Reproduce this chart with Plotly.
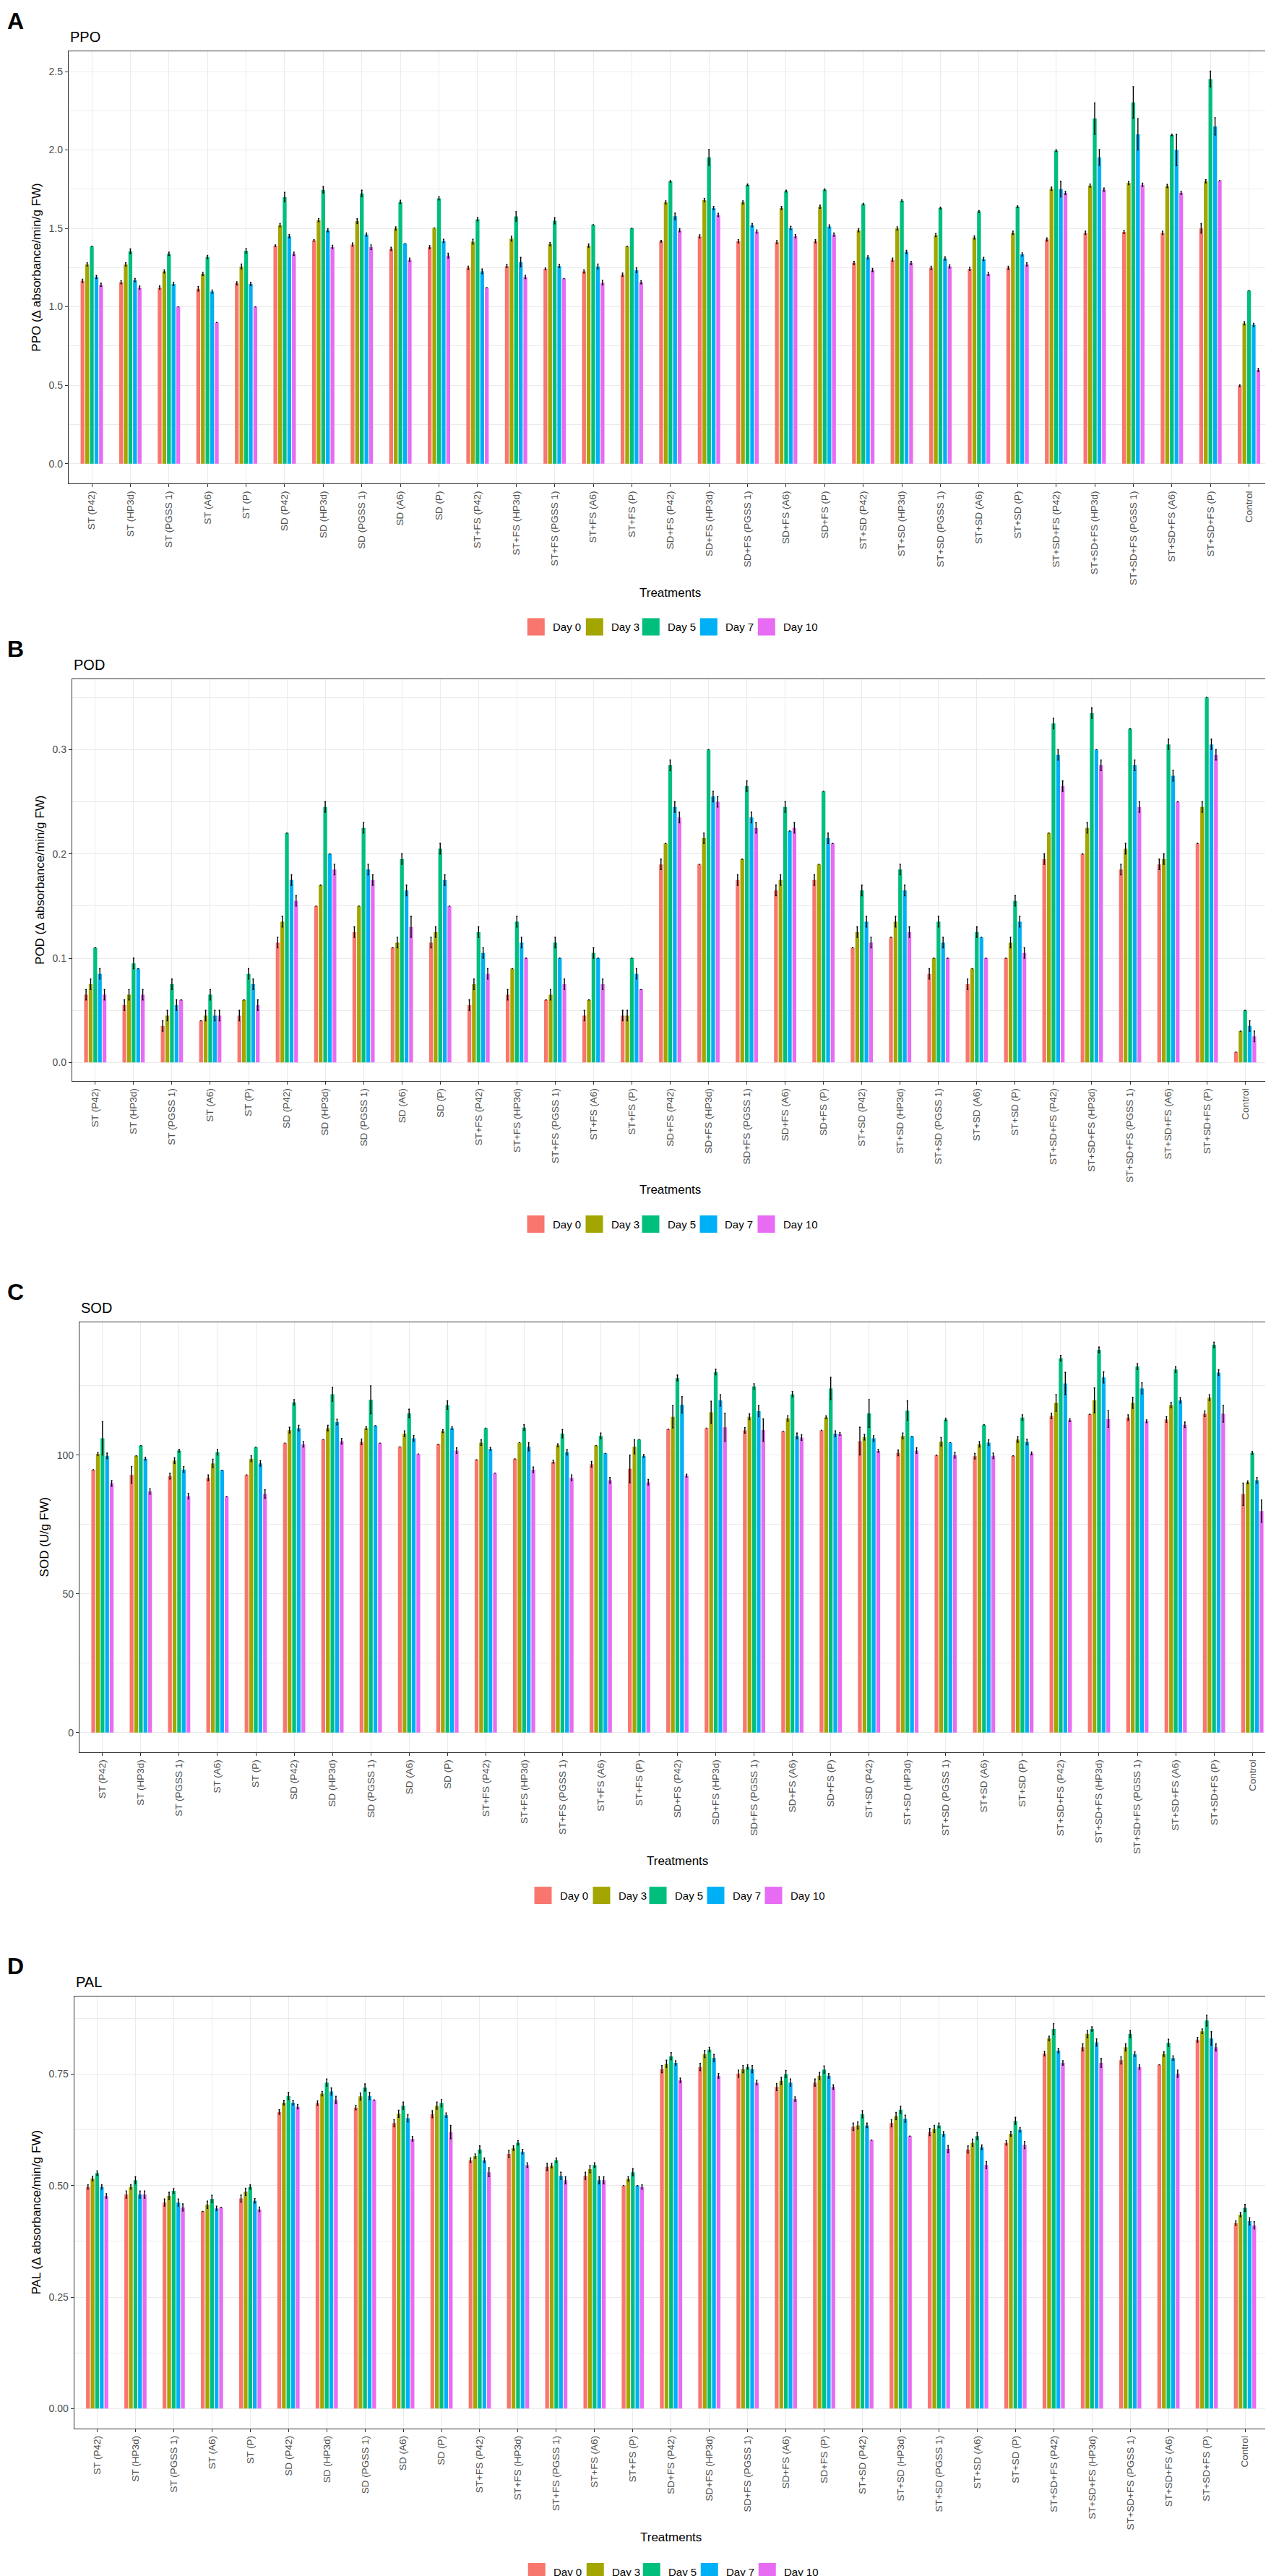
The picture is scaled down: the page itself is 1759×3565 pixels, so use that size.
import plotly.graph_objects as go

W, H = 1759, 3565
FONT = "Liberation Sans, Arial, sans-serif"

TREATMENTS = [
    "ST (P42)", "ST (HP3d)", "ST (PGSS 1)", "ST (A6)", "ST (P)",
    "SD (P42)", "SD (HP3d)", "SD (PGSS 1)", "SD (A6)", "SD (P)",
    "ST+FS (P42)", "ST+FS (HP3d)", "ST+FS (PGSS 1)", "ST+FS (A6)", "ST+FS (P)",
    "SD+FS (P42)", "SD+FS (HP3d)", "SD+FS (PGSS 1)", "SD+FS (A6)", "SD+FS (P)",
    "ST+SD (P42)", "ST+SD (HP3d)", "ST+SD (PGSS 1)", "ST+SD (A6)", "ST+SD (P)",
    "ST+SD+FS (P42)", "ST+SD+FS (HP3d)", "ST+SD+FS (PGSS 1)", "ST+SD+FS (A6)",
    "ST+SD+FS (P)", "Control",
]
DAYS = ["Day 0", "Day 3", "Day 5", "Day 7", "Day 10"]
COLORS = ["#F8766D", "#A3A500", "#00BF7D", "#00B0F6", "#E76BF3"]

# rows = days (0, 3, 5, 7, 10), columns = treatments
PPO_MEAN = [
    [1.166, 1.157, 1.123, 1.115, 1.15, 1.39, 1.423, 1.397, 1.37, 1.38, 1.249, 1.26, 1.242, 1.226, 1.205,
     1.418, 1.449, 1.418, 1.412, 1.418, 1.28, 1.3, 1.249, 1.242, 1.249, 1.43, 1.472, 1.477, 1.472, 1.5, 0.497],
    [1.27, 1.27, 1.226, 1.21, 1.257, 1.52, 1.553, 1.546, 1.5, 1.503, 1.415, 1.435, 1.4, 1.39, 1.385,
     1.666, 1.68, 1.666, 1.63, 1.638, 1.488, 1.5, 1.457, 1.442, 1.472, 1.753, 1.773, 1.789, 1.77, 1.8, 0.895],
    [1.385, 1.354, 1.338, 1.318, 1.357, 1.70, 1.746, 1.723, 1.669, 1.692, 1.558, 1.576, 1.549, 1.523, 1.5,
     1.80, 1.953, 1.778, 1.738, 1.747, 1.655, 1.677, 1.63, 1.608, 1.638, 1.996, 2.2, 2.303, 2.096, 2.452, 1.103],
    [1.19, 1.17, 1.146, 1.097, 1.146, 1.45, 1.488, 1.461, 1.403, 1.42, 1.226, 1.285, 1.26, 1.257, 1.233,
     1.577, 1.63, 1.52, 1.503, 1.512, 1.315, 1.35, 1.308, 1.305, 1.334, 1.75, 1.953, 2.1, 2.0, 2.15, 0.885],
    [1.14, 1.123, 1.0, 0.9, 1.0, 1.338, 1.382, 1.38, 1.3, 1.326, 1.123, 1.19, 1.18, 1.154, 1.157,
     1.488, 1.586, 1.48, 1.45, 1.46, 1.235, 1.28, 1.258, 1.21, 1.27, 1.726, 1.747, 1.778, 1.727, 1.804, 0.597],
]
PPO_ERR = [
    [.01, .01, .01, .015, .01, .005, .005, .01, .01, .01, .01, .01, .005, .01, .01,
     .005, .01, .01, .01, .01, .01, .01, .01, .01, .01, .01, .01, .01, .01, .03, .005],
    [.01, .01, .01, .01, .015, .01, .01, .015, .01, 0, .015, .015, .01, .01, 0,
     .01, .01, .01, .01, .01, .01, .01, .01, .01, .01, .01, .01, .01, .01, .01, .01],
    [0, .015, .01, .01, .015, .03, .02, .02, .01, .01, .01, .03, .02, 0, 0,
     .005, .05, .005, .005, .005, .005, .005, .005, .005, .005, .005, .1, .1, .005, .05, 0],
    [.01, .01, .01, .01, .01, .01, .01, .01, 0, .01, .015, .03, .01, .015, .015,
     .02, .01, .01, .01, .01, .01, .01, .01, .01, .01, .05, .05, .1, .1, .055, .01],
    [.01, .01, 0, 0, 0, .01, .01, .015, .01, .015, 0, .01, 0, .015, .01,
     .01, .01, .01, .01, .01, .01, .01, .01, .01, .01, .01, .01, .01, .01, 0, .01],
]

POD_MEAN = [
    [.065, .055, .035, .04, .045, .115, .15, .125, .11, .115, .055, .065, .06, .045, .045,
     .19, .19, .175, .165, .175, .11, .12, .085, .075, .1, .195, .2, .185, .19, .21, .01],
    [.075, .065, .045, .045, .06, .135, .17, .15, .115, .125, .075, .09, .065, .06, .045,
     .21, .215, .195, .175, .19, .125, .135, .1, .09, .115, .22, .225, .205, .195, .245, .03],
    [.11, .095, .075, .065, .085, .22, .245, .225, .195, .205, .125, .135, .115, .105, .1,
     .285, .30, .265, .245, .26, .165, .185, .135, .125, .155, .325, .335, .32, .305, .35, .05],
    [.085, .09, .055, .045, .075, .175, .20, .185, .165, .175, .105, .115, .10, .10, .085,
     .245, .255, .235, .222, .215, .135, .165, .115, .12, .135, .295, .30, .285, .275, .305, .035],
    [.065, .065, .06, .045, .055, .155, .185, .175, .13, .15, .085, .10, .075, .075, .07,
     .235, .25, .225, .225, .21, .115, .125, .10, .10, .105, .265, .285, .245, .25, .295, .025],
]
POD_ERR = [
    [.005, .005, .005, 0, .005, .005, 0, .005, 0, .005, .005, .005, 0, .005, .005,
     .005, 0, .005, .005, .005, 0, 0, .005, .005, 0, .005, 0, .005, .005, 0, 0],
    [.005, .005, .005, .005, 0, .005, 0, 0, .005, .005, .005, 0, .005, 0, .005,
     0, .005, 0, .005, 0, .005, .005, 0, 0, .005, 0, .005, .005, .005, .005, 0],
    [0, .005, .005, .005, .005, 0, .005, .005, .005, .005, .005, .005, .005, .005, 0,
     .005, 0, .005, .005, 0, .005, .005, .005, .005, .005, .005, .005, 0, .005, 0, 0],
    [.005, 0, .005, .005, .005, .005, 0, .005, .005, .005, .005, .005, 0, 0, .005,
     .005, .005, .005, 0, .005, .005, .005, .005, 0, .005, .005, 0, .005, .005, .005, .005],
    [.005, .005, 0, .005, .005, .005, .005, .005, .01, 0, .005, 0, .005, .005, 0,
     .005, .005, .005, .005, 0, .005, .005, 0, 0, .005, .005, .005, .005, 0, .005, .005],
]

SOD_MEAN = [
    [94.7, 92.8, 92.4, 91.8, 92.8, 104.3, 105.6, 104.8, 103, 103.9, 98.3, 98.6, 97.6, 96.7, 95,
     109.3, 109.7, 108.9, 108.6, 108.9, 105, 100.8, 99.9, 99.6, 99.7, 114.1, 114.7, 113.5, 112.8, 114.9, 85.9],
    [100.4, 99.7, 98, 97, 98.7, 109, 109.7, 109.7, 107.7, 108.6, 104.5, 104.5, 103.5, 103.4, 103,
     113.8, 115.4, 113.8, 113.2, 113.6, 106.4, 106.9, 104.8, 103.9, 105.6, 118.8, 119.7, 118.8, 118, 120.7, 90.2],
    [106, 103.4, 101.6, 101, 102.8, 119, 121.9, 119.9, 115, 118, 109.7, 109.9, 107.7, 106.9, 105.6,
     127.8, 129.9, 124.7, 121.9, 124, 115, 116, 112.8, 110.9, 113.5, 134.9, 137.9, 131.9, 130.8, 139.7, 100.8],
    [99.7, 98.7, 94.8, 94.5, 97, 109.7, 111.9, 110.6, 106, 109.7, 102.2, 103, 101, 100.6, 99.7,
     118.1, 119.7, 115.8, 106.9, 107.7, 106, 106.7, 104.5, 104.5, 104.7, 125.8, 128, 124, 119.7, 129.7, 90.9],
    [89.8, 86.9, 85.2, 85, 86, 103.9, 105, 104.3, 100.4, 101.6, 93.5, 94.7, 91.8, 90.9, 90.2,
     92.6, 110, 109, 106.3, 107.6, 101.5, 101.6, 99.9, 99.7, 100.6, 112.6, 113, 112.2, 110.9, 114.9, 79.8],
]
SOD_ERR = [
    [0, 3, 1, 1, 0, 0, 0, 1, 0, 0, 0, 0, 0.5, 1, 5,
     0, 0, 1, 0, 0, 5, 1, 0, 1, 0, 1, 0, 1, 1, 1, 4],
    [0.5, 0, 1, 1.5, 1, 1, 1, 0.5, 1, 0.5, 1, 0, 0.5, 0, 2.5,
     4, 4, 1, 1, 0.5, 1, 1, 1.5, 1, 1, 3, 4.5, 2, 1, 1, 0.5],
    [6, 0, 0.5, 1, 0, 1, 2.5, 5, 1.5, 1.5, 0, 1, 1.5, 1, 0,
     1, 1, 1, 1, 4, 5, 3.5, 0.5, 0, 1, 1, 1, 1, 1, 1, 0.5],
    [1, 0.5, 1, 0, 1, 1, 1, 0, 1, 0.5, 0.5, 1.5, 1, 0, 0.5,
     3, 2, 2, 1, 1, 1, 0, 0, 1, 1, 4, 2, 2, 1, 1, 1],
    [1, 1, 1, 0, 1.5, 1, 1, 0, 0, 1, 0, 1, 1, 1, 1,
     0.5, 5, 4, 1, 0.5, 0.5, 1, 1, 1, 0.5, 0.5, 3, 0.5, 1, 3, 4],
]

PAL_MEAN = [
    [.497, .48, .462, .442, .471, .665, .685, .675, .64, .66, .557, .571, .542, .522, .50,
     .761, .766, .751, .721, .731, .632, .64, .62, .581, .596, .796, .81, .781, .771, .827, .416],
    [.516, .497, .477, .457, .486, .686, .706, .70, .661, .679, .566, .584, .545, .537, .515,
     .773, .795, .761, .735, .746, .635, .656, .627, .596, .616, .83, .84, .81, .795, .846, .435],
    [.528, .512, .488, .47, .497, .701, .731, .72, .679, .685, .581, .596, .557, .546, .53,
     .79, .805, .766, .75, .76, .66, .67, .635, .611, .645, .851, .851, .84, .82, .87, .45],
    [.497, .48, .462, .449, .466, .686, .711, .701, .651, .658, .557, .576, .522, .512, .50,
     .775, .786, .761, .731, .746, .635, .65, .616, .586, .625, .803, .821, .795, .786, .83, .42],
    [.477, .48, .451, .451, .447, .677, .692, .692, .605, .62, .53, .546, .512, .512, .497,
     .736, .746, .731, .694, .721, .602, .611, .582, .546, .591, .775, .775, .766, .751, .81, .411],
]
PAL_ERR = [
    [.005, .008, .008, 0, .008, .005, .005, .005, .008, .008, .005, .008, .008, .008, 0,
     .008, .008, .008, .008, .008, .008, .008, .008, .008, .005, .005, .008, .008, 0, .005, .005],
    [.005, .005, .008, .008, .008, .005, .005, .008, .008, .008, .005, .005, .005, .008, .005,
     .008, .008, .008, .008, .008, .008, .008, .008, .008, .005, .005, .008, .008, .005, .005, .005],
    [.005, .008, .005, .008, .005, .008, .008, .008, .008, .008, .008, .005, .005, .005, .008,
     .008, .005, .005, .008, .008, .008, .008, .005, .008, .008, .012, .005, .008, .008, .012, .008],
    [.005, .008, .008, .005, .005, .005, .008, .008, .008, .005, .005, .005, .008, .008, 0,
     .005, .008, .008, .008, .005, .005, .008, .005, .005, .005, .005, .008, .005, .005, .015, .008],
    [.005, .008, .008, 0, .005, .005, .008, 0, .005, .015, .01, .005, .008, .008, .005,
     .005, .005, .005, .005, .005, 0, 0, .008, .008, .008, .005, .01, .005, .008, .008, .008],
]

for arr in (PPO_MEAN, PPO_ERR, POD_MEAN, POD_ERR, SOD_MEAN, SOD_ERR, PAL_MEAN, PAL_ERR):
    assert len(arr) == 5 and all(len(r) == len(TREATMENTS) for r in arr), [len(r) for r in arr]

# panel boxes in pixels: left, top, right, bottom
PANELS = [
    dict(letter="A", title="PPO", ytitle="PPO (Δ absorbance/min/g FW)",
         mean=PPO_MEAN, err=PPO_ERR, yrange=[-0.126, 2.629], dtick=0.5, fmt=".1f",
         box=(87, 63, 1752.6, 661)),
    dict(letter="B", title="POD", ytitle="POD (Δ absorbance/min/g FW)",
         mean=POD_MEAN, err=POD_ERR, yrange=[-0.0175, 0.3675], dtick=0.1, fmt=".1f",
         box=(92, 932, 1747, 1487.6)),
    dict(letter="C", title="SOD", ytitle="SOD (U/g FW)",
         mean=SOD_MEAN, err=SOD_ERR, yrange=[-7.0, 147.9], dtick=50, fmt="d",
         box=(102, 1821.7, 1757, 2416.6)),
    dict(letter="D", title="PAL", ytitle="PAL (Δ absorbance/min/g FW)",
         mean=PAL_MEAN, err=PAL_ERR, yrange=[-0.044, 0.924], dtick=0.25, fmt=".2f",
         box=(94.7, 2755, 1746.8, 3352.5)),
]


def px(x):
    return x / W


def py(y):
    return 1 - y / H


fig = go.Figure()
annotations = []
shapes = []
GRID = "#EBEBEB"
LINE = "#333333"

for i, p in enumerate(PANELS, start=1):
    sfx = "" if i == 1 else str(i)
    left, top, right, bottom = p["box"]

    for d in range(5):
        fig.add_trace(go.Bar(
            x=TREATMENTS, y=p["mean"][d], name=DAYS[d],
            marker=dict(color=COLORS[d], line=dict(width=0)),
            error_y=dict(type="data", array=p["err"][d], color="black",
                         thickness=1.4, width=1),
            xaxis="x" + sfx, yaxis="y" + sfx, showlegend=False,
        ))

    fig.layout["xaxis" + sfx] = dict(
        domain=[px(left), px(right)], anchor="y" + sfx, type="category",
        range=[-0.6, len(TREATMENTS) - 0.4], tickangle=-90,
        tickfont=dict(family=FONT, size=13.5, color="#4D4D4D"),
        showgrid=True, gridcolor=GRID, gridwidth=1.1, zeroline=False,
        showline=True, mirror=True, linecolor=LINE, linewidth=1.3,
        ticks="outside", ticklen=4, tickcolor=LINE, tickwidth=1,
    )
    fig.layout["yaxis" + sfx] = dict(
        domain=[py(bottom), py(top)], anchor="x" + sfx,
        range=p["yrange"], tick0=0, dtick=p["dtick"], tickformat=p["fmt"],
        tickfont=dict(family=FONT, size=14, color="#4D4D4D"),
        showgrid=True, gridcolor=GRID, gridwidth=1.1, zeroline=False,
        minor=dict(dtick=p["dtick"] / 2, tick0=0, showgrid=True,
                   gridcolor=GRID, gridwidth=0.6),
        showline=True, mirror=True, linecolor=LINE, linewidth=1.3,
        ticks="outside", ticklen=4, tickcolor=LINE, tickwidth=1,
        title=dict(text=p["ytitle"], standoff=6,
                   font=dict(family=FONT, size=17, color="black")),
    )

    # panel letter and title
    annotations.append(dict(
        text="<b>%s</b>" % p["letter"], x=0, y=py(top - 62), xref="paper", yref="paper",
        xanchor="left", yanchor="top", showarrow=False,
        font=dict(family=FONT, size=32, color="black")))
    annotations.append(dict(
        text=p["title"], x=px(left), y=py(top - 20), xref="paper", yref="paper",
        xanchor="left", yanchor="middle", showarrow=False,
        font=dict(family=FONT, size=20, color="black")))

    # x axis title
    cx = (left + right) / 2
    annotations.append(dict(
        text="Treatments", x=px(cx), y=py(bottom + 151), xref="paper", yref="paper",
        xanchor="center", yanchor="middle", showarrow=False,
        font=dict(family=FONT, size=17, color="black")))

    # legend below the panel
    ly = bottom + 198.5
    for d, off in enumerate([-198, -117, -39, 41, 121]):
        kx = cx + off
        shapes.append(dict(
            type="rect", xref="paper", yref="paper",
            x0=px(kx), x1=px(kx + 24), y0=py(ly + 12), y1=py(ly - 12),
            fillcolor=COLORS[d], line=dict(width=0)))
        annotations.append(dict(
            text=DAYS[d], x=px(kx + 33), y=py(ly), xref="paper", yref="paper",
            xanchor="left", yanchor="middle", showarrow=False,
            font=dict(family=FONT, size=15, color="black")))

fig.update_layout(
    width=W, height=H, autosize=False,
    margin=dict(l=0, r=0, t=0, b=0),
    paper_bgcolor="white", plot_bgcolor="white",
    barmode="group", bargap=0.4, bargroupgap=0.1667,
    font=dict(family=FONT),
    annotations=annotations, shapes=shapes,
)

fig.write_html("out.html")
